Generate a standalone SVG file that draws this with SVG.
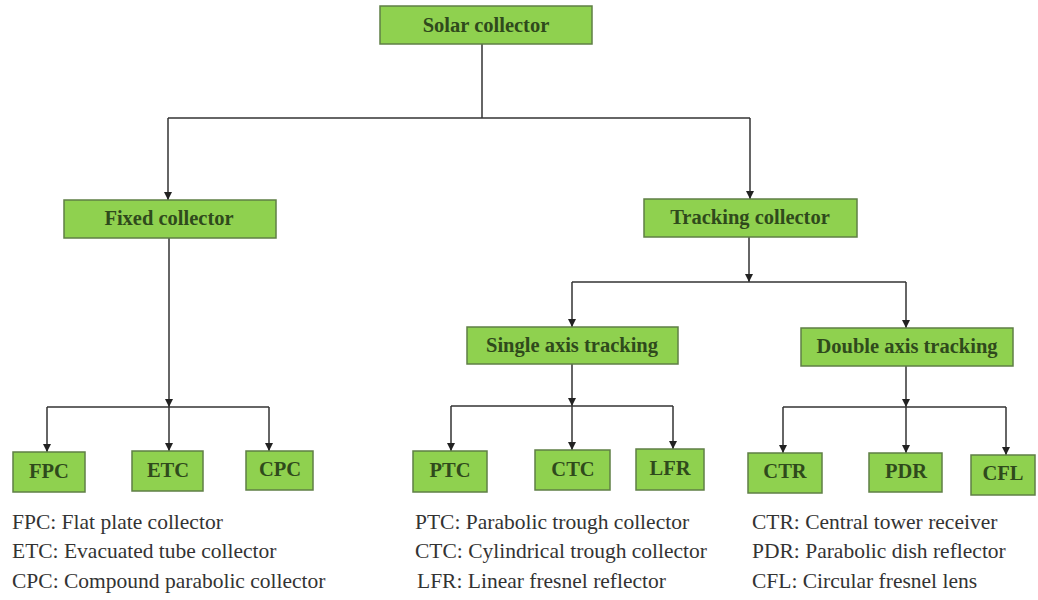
<svg xmlns="http://www.w3.org/2000/svg" width="1038" height="600" viewBox="0 0 1038 600">
<style>
.box{fill:#8fd14f;stroke:#5f7f45;stroke-width:1.5}
.lbl{font-family:'Liberation Serif','DejaVu Serif','Times New Roman',Times,serif;font-weight:bold;font-size:20.5px;fill:#2f4a1c;text-anchor:middle}
.leg{font-family:'Liberation Serif','DejaVu Serif','Times New Roman',Times,serif;font-size:21.5px;fill:#333}
.con{fill:none;stroke:#333;stroke-width:1.5}
</style>
<defs>
<marker id="arr" viewBox="0 0 10 10" refX="10" refY="5" markerWidth="8" markerHeight="8" markerUnits="userSpaceOnUse" orient="auto">
<path d="M0,0 L10,5 L0,10 z" fill="#222"/>
</marker>
</defs>
<rect width="1038" height="600" fill="#fff"/>
<g id="connectors">
<path class="con" d="M482,44 V118"/>
<path class="con" d="M168,118 H750"/>
<path class="con" d="M168,118 V200" marker-end="url(#arr)"/>
<path class="con" d="M750,118 V199" marker-end="url(#arr)"/>
<path class="con" d="M169,238 V407" marker-end="url(#arr)"/>
<path class="con" d="M47,407 H269"/>
<path class="con" d="M47,407 V452" marker-end="url(#arr)"/>
<path class="con" d="M169,407 V451" marker-end="url(#arr)"/>
<path class="con" d="M269,407 V451" marker-end="url(#arr)"/>
<path class="con" d="M749,237 V282" marker-end="url(#arr)"/>
<path class="con" d="M572,282 H906"/>
<path class="con" d="M572,282 V327" marker-end="url(#arr)"/>
<path class="con" d="M906,282 V328" marker-end="url(#arr)"/>
<path class="con" d="M572,364 V406" marker-end="url(#arr)"/>
<path class="con" d="M451,406 H673"/>
<path class="con" d="M451,406 V451" marker-end="url(#arr)"/>
<path class="con" d="M572,406 V450" marker-end="url(#arr)"/>
<path class="con" d="M673,406 V449" marker-end="url(#arr)"/>
<path class="con" d="M906,366 V407" marker-end="url(#arr)"/>
<path class="con" d="M783,407 H1006"/>
<path class="con" d="M783,407 V453" marker-end="url(#arr)"/>
<path class="con" d="M906,407 V453" marker-end="url(#arr)"/>
<path class="con" d="M1006,407 V455" marker-end="url(#arr)"/>
</g>
<g id="solar"><rect class="box" x="380" y="6" width="212" height="38"/><text class="lbl" font-family="Liberation Serif, serif" x="486" y="32">Solar collector</text></g>
<g id="fixed"><rect class="box" x="64" y="200" width="212" height="38"/><text class="lbl" x="169" y="225">Fixed collector</text></g>
<g id="tracking"><rect class="box" x="644" y="199" width="213" height="38"/><text class="lbl" x="750" y="224">Tracking collector</text></g>
<g id="single"><rect class="box" x="467" y="327" width="211" height="37"/><text class="lbl" x="572" y="352">Single axis tracking</text></g>
<g id="double"><rect class="box" x="801" y="328" width="212" height="38"/><text class="lbl" x="907" y="353">Double axis tracking</text></g>
<g id="fpc"><rect class="box" x="13" y="452" width="72" height="40"/><text class="lbl" x="49" y="478">FPC</text></g>
<g id="etc"><rect class="box" x="132" y="451" width="71" height="40"/><text class="lbl" x="168" y="477">ETC</text></g>
<g id="cpc"><rect class="box" x="246" y="451" width="67" height="39"/><text class="lbl" x="280" y="476">CPC</text></g>
<g id="ptc"><rect class="box" x="413" y="451" width="74" height="41"/><text class="lbl" x="450" y="477">PTC</text></g>
<g id="ctc"><rect class="box" x="535" y="450" width="75" height="40"/><text class="lbl" x="573" y="476">CTC</text></g>
<g id="lfr"><rect class="box" x="636" y="449" width="68" height="41"/><text class="lbl" x="670" y="475">LFR</text></g>
<g id="ctr"><rect class="box" x="748" y="453" width="74" height="40"/><text class="lbl" x="785" y="478">CTR</text></g>
<g id="pdr"><rect class="box" x="869" y="453" width="73" height="39"/><text class="lbl" x="906" y="478">PDR</text></g>
<g id="cfl"><rect class="box" x="971" y="455" width="64" height="40"/><text class="lbl" x="1003" y="480">CFL</text></g>
<g id="legend">
<text class="leg" x="12" y="529">FPC: Flat plate collector</text>
<text class="leg" x="12" y="558">ETC: Evacuated tube collector</text>
<text class="leg" x="12" y="588">CPC: Compound parabolic collector</text>
<text class="leg" x="415" y="529">PTC: Parabolic trough collector</text>
<text class="leg" x="415" y="558">CTC: Cylindrical trough collector</text>
<text class="leg" x="417" y="588">LFR: Linear fresnel reflector</text>
<text class="leg" x="752" y="529">CTR: Central tower receiver</text>
<text class="leg" x="752" y="558">PDR: Parabolic dish reflector</text>
<text class="leg" x="752" y="588">CFL: Circular fresnel lens</text>
</g>
</svg>
